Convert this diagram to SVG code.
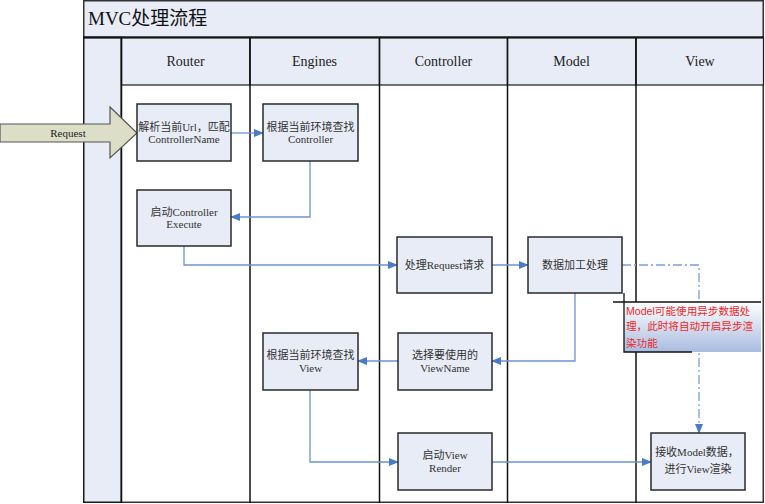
<svg xmlns="http://www.w3.org/2000/svg" width="765" height="504" viewBox="0 0 765 504">
<style>
.lane{fill:#ffffff;stroke:#1a1a1a;stroke-width:1.5}
.hdr{fill:#E8ECF6;stroke:#1a1a1a;stroke-width:1.2}
.hl{font-family:"Liberation Serif","Noto Serif CJK SC","Noto Sans CJK SC",serif;font-size:14px;fill:#222;text-anchor:middle}
.box{fill:#E8ECF6;stroke:#2a2a2a;stroke-width:1.5}
.bt{font-family:"Liberation Serif","Noto Sans CJK SC",serif;font-size:11px;fill:#333;text-anchor:middle}
.con{fill:none;stroke:#6C93CF;stroke-width:1.3}
.dd{fill:none;stroke:#7A9FD8;stroke-width:1.3;stroke-dasharray:9 3 2 3}
.note{font-family:"Liberation Sans","Noto Sans CJK SC",sans-serif;font-size:10.6px;fill:#F02828}
</style>
<defs>
<marker id="ah" markerWidth="10" markerHeight="8" refX="9" refY="4" orient="auto" markerUnits="userSpaceOnUse">
<path d="M0,0 L10,4 L0,8 Z" fill="#4A7BC8"/>
</marker>
<linearGradient id="ng" x1="0" y1="0" x2="0" y2="1">
<stop offset="0" stop-color="#ffffff"/>
<stop offset="1" stop-color="#A9BCE0"/>
</linearGradient>
</defs>
<rect x="0" y="0" width="765" height="504" fill="#ffffff"/>
<g id="pool">
<rect x="83.75" y="0.75" width="679.5" height="501.5" fill="#ffffff" stroke="#333" stroke-width="1.5"/>
<rect x="83.75" y="0.75" width="679.5" height="36.5" fill="#E8ECF6" stroke="#333" stroke-width="1.5"/>
<text x="88" y="25" style="font-family:'Liberation Serif','Noto Sans CJK SC',serif;font-size:19px;fill:#111">MVC处理流程</text>
<rect x="83.75" y="37.5" width="37.5" height="464.75" fill="#E8ECF6" stroke="#1a1a1a" stroke-width="1.5"/>
<line x1="83" y1="37.5" x2="764" y2="37.5" stroke="#111" stroke-width="2"/>
</g>
<g id="lane-router">
<rect class="hdr" x="121.5" y="38" width="128.5" height="47"/>
<line x1="121.5" y1="38" x2="121.5" y2="503" stroke="#111" stroke-width="1.5"/>
<text class="hl" x="185.5" y="66">Router</text>
</g>
<g id="lane-engines">
<rect class="hdr" x="250" y="38" width="129.5" height="47"/>
<line x1="250" y1="38" x2="250" y2="503" stroke="#111" stroke-width="1.5"/>
<text class="hl" x="314.5" y="66">Engines</text>
</g>
<g id="lane-controller">
<rect class="hdr" x="379.5" y="38" width="128" height="47"/>
<line x1="379.5" y1="38" x2="379.5" y2="503" stroke="#111" stroke-width="1.5"/>
<text class="hl" x="443.5" y="66">Controller</text>
</g>
<g id="lane-model">
<rect class="hdr" x="507.5" y="38" width="128.5" height="47"/>
<line x1="507.5" y1="38" x2="507.5" y2="503" stroke="#111" stroke-width="1.5"/>
<text class="hl" x="571.5" y="66">Model</text>
</g>
<g id="lane-view">
<rect class="hdr" x="636" y="38" width="127.5" height="47"/>
<line x1="636" y1="38" x2="636" y2="503" stroke="#111" stroke-width="1.5"/>
<text class="hl" x="700" y="66">View</text>
</g>
<g id="request">
<polygon points="0,124 110,124 110,107 137,133 110,158 110,142 0,142" fill="#DCDEC8" stroke="#555" stroke-width="1.2"/>
<text x="68" y="137" style="font-family:'Liberation Serif',serif;font-size:11px;fill:#222;text-anchor:middle">Request</text>
</g>
<g id="connectors">
<path class="con" d="M231,133 L263,133" marker-end="url(#ah)"/>
<path class="con" d="M310,161 L310,217 L231,217" marker-end="url(#ah)"/>
<path class="con" d="M184,246 L184,265 L397,265" marker-end="url(#ah)"/>
<path class="con" d="M492,265 L528,265" marker-end="url(#ah)"/>
<path class="con" d="M575,293 L575,361 L492,361" marker-end="url(#ah)"/>
<path class="con" d="M398,361 L358,361" marker-end="url(#ah)"/>
<path class="con" d="M310,390 L310,462 L398,462" marker-end="url(#ah)"/>
<path class="con" d="M492,462 L651,462" marker-end="url(#ah)"/>
<path class="dd" d="M622,265 L699,265 L699,433" marker-end="url(#ah)"/>
</g>
<g id="n1">
<rect class="box" x="137" y="104" width="94" height="57"/>
<text class="bt" x="184" y="131">解析当前Url，匹配</text>
<text class="bt" x="184" y="143">ControllerName</text>
</g>
<g id="n2">
<rect class="box" x="263" y="104" width="95" height="57"/>
<text class="bt" x="310.5" y="131">根据当前环境查找</text>
<text class="bt" x="310.5" y="143">Controller</text>
</g>
<g id="n3">
<rect class="box" x="137" y="190" width="94" height="56"/>
<text class="bt" x="184" y="216">启动Controller</text>
<text class="bt" x="184" y="228">Execute</text>
</g>
<g id="n4">
<rect class="box" x="397" y="237" width="95" height="56"/>
<text class="bt" x="444.5" y="269">处理Request请求</text>
</g>
<g id="n5">
<rect class="box" x="528" y="237" width="94" height="56"/>
<text class="bt" x="575" y="269">数据加工处理</text>
</g>
<g id="n6">
<rect class="box" x="398" y="333" width="94" height="57"/>
<text class="bt" x="445" y="359">选择要使用的</text>
<text class="bt" x="445" y="372">ViewName</text>
</g>
<g id="n7">
<rect class="box" x="263" y="333" width="95" height="57"/>
<text class="bt" x="310.5" y="359">根据当前环境查找</text>
<text class="bt" x="310.5" y="372">View</text>
</g>
<g id="n8">
<rect class="box" x="398" y="433" width="94" height="57"/>
<text class="bt" x="445" y="459">启动View</text>
<text class="bt" x="445" y="472">Render</text>
</g>
<g id="n9">
<rect class="box" x="651" y="433" width="94" height="57"/>
<text class="bt" x="697" y="456">接收Model数据，</text>
<text class="bt" x="698" y="473">进行View渲染</text>
</g>
<g id="note">
<rect x="624" y="302" width="137" height="50" fill="url(#ng)"/>
<path d="M613,302 L761,302" stroke="#111" stroke-width="1.3" fill="none"/>
<path d="M624,293 L624,352 L692,352" stroke="#111" stroke-width="1.3" fill="none"/>
<text class="note" x="626" y="315">Model可能使用异步数据处</text>
<text class="note" x="626" y="330">理，此时将自动开启异步渲</text>
<text class="note" x="626" y="347">染功能</text>
</g>
</svg>
